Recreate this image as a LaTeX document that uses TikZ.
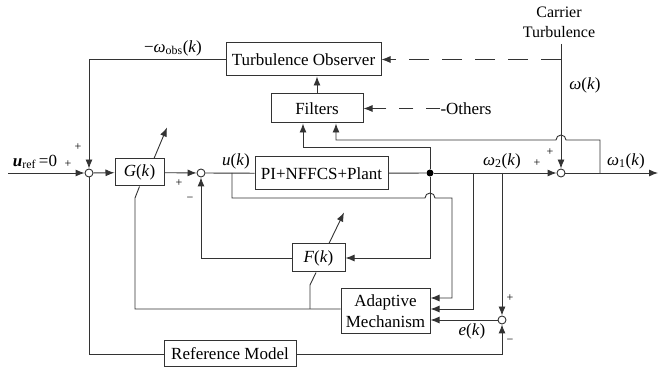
\documentclass[tikz,border=0pt]{standalone}
\usepackage{fontspec}
\setmainfont{Liberation Serif}
\usetikzlibrary{arrows.meta}
\begin{document}
\begin{tikzpicture}[x=1pt,y=-1pt,
  wire/.style={draw=black!80,line width=0.9pt},
  arr/.style={wire,-{Latex[length=9pt,width=7pt]}},
  blk/.style={draw=black!80,line width=1pt,fill=white,inner sep=0pt,font=\fontsize{17}{19}\selectfont},
  sumc/.style={circle,draw=black!80,line width=0.9pt,fill=white,minimum size=8pt,inner sep=0pt},
  dotc/.style={circle,fill=black,minimum size=7pt,inner sep=0pt},
  lbl/.style={inner sep=0pt,font=\fontsize{17}{19}\selectfont},
  sgn/.style={inner sep=0pt,font=\fontsize{12}{14}\selectfont}]
\useasboundingbox (0,0) rectangle (659,371);
% blocks
\node[blk,minimum width=155pt,minimum height=33pt] (obs) at (303.5,59.5) {Turbulence Observer};
\node[blk,minimum width=92pt,minimum height=29pt] (fil) at (317,108.5) {Filters};
\node[blk,minimum width=133pt,minimum height=33pt] (pi) at (321.5,173.5) {PI+NFFCS+Plant};
\node[blk,minimum width=49pt,minimum height=27pt] (G) at (139.5,172.5) {\textit{G}(\textit{k})};
\node[blk,minimum width=53pt,minimum height=28pt] (F) at (318.5,258) {\textit{F}(\textit{k})};
\node[blk,minimum width=89pt,minimum height=45pt,align=center,font=\fontsize{17}{21}\selectfont] (am) at (385.5,311.5) {Adaptive\\Mechanism};
\node[blk,minimum width=132pt,minimum height=26pt] (rm) at (230,354) {Reference Model};
% junctions
\node[sumc] (s1) at (89,173) {};
\node[sumc] (s2) at (201,173) {};
\node[sumc] (s3) at (561,173) {};
\node[sumc] (s4) at (502,320) {};
\node[dotc] (d1) at (430,173) {};
\coordinate (in) at (8,173);
\coordinate (out) at (658,173);
\coordinate (ct) at (561,44);
\coordinate (bu) at (232,173);
\coordinate (b1) at (600,173);
\coordinate (b2) at (473,173);
\coordinate (b3) at (502,173);
% labels
\node[lbl,align=center,font=\fontsize{16}{20}\selectfont] (car) at (559,22) {Carrier\\Turbulence};
\node[lbl] (oth) at (466,108.5) {-Others};
\node[lbl] at (173,48) {−\textit{ω}\textsubscript{obs}(\textit{k})};
\node[lbl] at (35,162) {\textbf{\textit{u}}\textsubscript{ref}\,=0};
\node[lbl] at (236,161) {\textit{u}(\textit{k})};
\node[lbl] at (502,161) {\textit{ω}\textsubscript{2}(\textit{k})};
\node[lbl] at (626,161) {\textit{ω}\textsubscript{1}(\textit{k})};
\node[lbl] at (585,85) {\textit{ω}(\textit{k})};
\node[lbl] at (472,331) {\textit{e}(\textit{k})};
\node[sgn] at (68,164) {+};
\node[sgn] at (78,147) {+};
\node[sgn] at (179,183) {+};
\node[sgn] at (190,199) {−};
\node[sgn] at (537,163) {+};
\node[sgn] at (550,152) {+};
\node[sgn] at (510,298) {+};
\node[sgn] at (510,341) {−};
% main path
\draw[arr] (in) -- (s1);
\draw[arr] (s1) -- (G);
\draw[arr] (G) -- (s2);
\draw[wire] (s2) -- (pi);
\draw[wire] (pi) -- (d1);
\draw[arr] (d1) -- (s3);
\draw[arr] (s3) -- (out);
% observer loop
\draw[arr] (obs.west) -| (s1);
\draw[arr] (fil.north) -- (fil.north |- obs.south);
\draw[arr] (ct) -- (s3);
\draw[arr,dash pattern=on 20pt off 13pt] (ct |- obs.east) -- (obs.east);
\draw[arr,dash pattern=on 14pt off 13pt] (oth.west) -- (fil.east);
\draw[arr] (d1) -- ++(0,-26) -| ([xshift=-14pt]fil.south);
\draw[arr] (b1) -- (600,140) -- (566,140) arc[start angle=0,end angle=-180,radius=5] -- (336,140) -- ([xshift=19pt]fil.south);
% adaptive loop
\draw[arr] (bu) -- (232,198) -- (425,198) arc[start angle=180,end angle=360,radius=5] -- (452,198) |- ([yshift=13.5pt]am.east);
\draw[arr] (b2) |- ([yshift=2.5pt]am.east);
\draw[arr] (b3) -- (s4);
\draw[arr] (s4) -- (s4 -| am.east);
\draw[arr] (d1) |- (F.east);
\draw[arr] (F.west) -| (s2);
\draw[wire] (s1) |- (rm.west);
\draw[arr] (rm.east) -| (s4);
\draw[wire] ([yshift=2.5pt]am.west) -- (135,309) -- (135,198) -- (G.south);
\draw[wire] (310,309) -- (310,285) -- ([xshift=-2.5pt]F.south);
\draw[arr] ([xshift=14.5pt]G.north) -- ++(13,-31);
\draw[arr] ([xshift=10.5pt]F.north) -- ++(15,-31);
\end{tikzpicture}
\end{document}
